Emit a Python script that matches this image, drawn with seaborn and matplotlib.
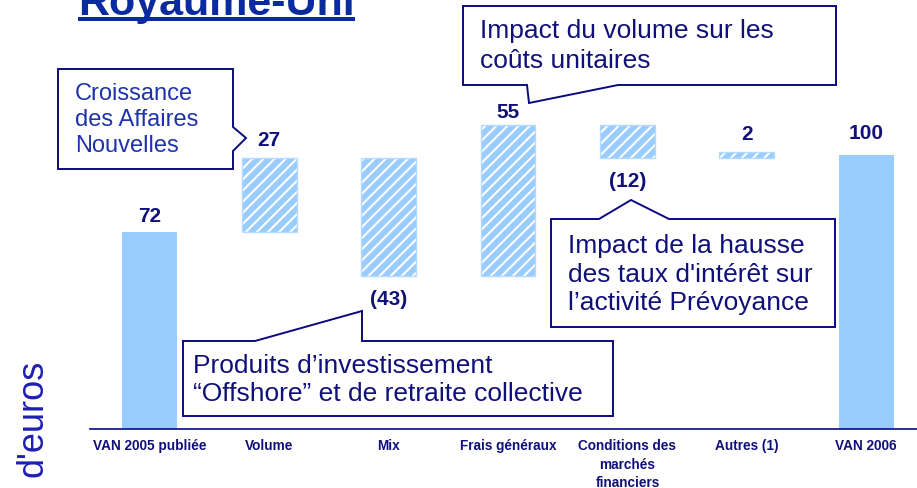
import numpy as np
import pandas as pd
import matplotlib
matplotlib.use("Agg")
import matplotlib.pyplot as plt
import seaborn as sns
from matplotlib.patches import Polygon
from matplotlib.lines import Line2D

# ---- data -------------------------------------------------------------
categories = ["VAN 2005 publiée", "Volume", "Mix", "Frais généraux",
              "Conditions des\nmarchés\nfinanciers", "Autres (1)", "VAN 2006"]
values = [72, 27, -43, 55, -12, 2, 100]
is_total = [True, False, False, False, False, False, True]

# gap (in pixels) between each bar and its value label
label_gaps = [10, 12, 14, 7, 14, 12, 16]

# ---- style ------------------------------------------------------------
sns.set_style("white")
plt.rcParams["font.family"] = ["Liberation Sans", "DejaVu Sans"]
plt.rcParams["hatch.linewidth"] = 1.5

W, H = 917, 488
BAR = "#99CCFF"
BAR_EDGE = "#B5DAFF"
NAVY = "#10107A"
BORDER = "#0A0A80"
TITLE_BLUE = "#0A2A9F"


def px(x, y):
    """Pixel position (origin top-left) -> figure fraction."""
    return (x / W, 1 - y / H)


def label_for(v):
    return f"({abs(v)})" if v < 0 else f"{v}"


# waterfall bases
bottoms = []
running = 0
for v, tot in zip(values, is_total):
    if tot:
        bottoms.append(0)
        running = v
    else:
        bottoms.append(running)
        running += v

fig = plt.figure(figsize=(W / 100, H / 100), dpi=100)
ax = fig.add_axes([90 / W, 59 / H, 836 / W, 429 / H])

df = pd.DataFrame({"poste": categories, "valeur": values})
sns.barplot(data=df, x="poste", y="valeur", order=categories, ax=ax,
            color=BAR, saturation=1, width=0.46, errorbar=None,
            bottom=bottoms, linewidth=0)

# hatched fill for the intermediate steps, with a faint outline on top
for patch, tot in zip(list(ax.patches), is_total):
    patch.set_facecolor(BAR)
    if not tot:
        patch.set_hatch("///")
        patch.set_edgecolor("white")
        patch.set_linewidth(0)
        x0, y0 = patch.get_xy()
        outline = plt.Rectangle((x0, y0), patch.get_width(), patch.get_height(),
                                fill=False, edgecolor=BAR_EDGE, linewidth=1.0,
                                zorder=patch.get_zorder() + 0.1)
        ax.add_patch(outline)

ax.set_xlim(-0.5, len(categories) - 0.5)
ax.set_ylim(0, 429 / 2.74)

# value labels
for i, (v, b, gap) in enumerate(zip(values, bottoms, label_gaps)):
    top = max(b, b + v)
    low = min(b, b + v)
    if v >= 0:
        ax.annotate(label_for(v), xy=(i, top), xytext=(0, gap * 0.72),
                    textcoords="offset points", ha="center", va="baseline",
                    fontsize=15, fontweight="bold", color=NAVY)
    else:
        ax.annotate(label_for(v), xy=(i, low), xytext=(0, -gap * 0.72),
                    textcoords="offset points", ha="center", va="top",
                    fontsize=15, fontweight="bold", color=NAVY)

# axes decoration
for s in ["left", "right", "top"]:
    ax.spines[s].set_visible(False)
ax.spines["bottom"].set_color(BORDER)
ax.spines["bottom"].set_linewidth(1.2)
ax.set_yticks([])
ax.set_xlabel("")
ax.set_ylabel("")
ax.set_xticks(range(len(categories)))
ax.set_xticklabels(categories)
ax.set_xticks(np.arange(-0.5, len(categories)), minor=True)
ax.tick_params(axis="x", which="major", length=0, pad=7.5)
ax.tick_params(axis="x", which="minor", length=4, width=1.2, color=BORDER,
               direction="out")
for t in ax.get_xticklabels():
    t.set_fontsize(9.8)
    t.set_fontweight("bold")
    t.set_color(NAVY)
    t.set_linespacing(1.38)

# title
title = fig.text(*px(216.5, 15), "Royaume-Uni", ha="center", va="baseline",
                 fontsize=31, fontweight="bold", color=TITLE_BLUE)
fig.canvas.draw()
bb = title.get_window_extent()
fig.add_artist(Line2D([bb.x0 / W, bb.x1 / W], [1 - 19 / H, 1 - 19 / H],
                      transform=fig.transFigure, color=TITLE_BLUE,
                      linewidth=2.9, solid_capstyle="butt"))

# y axis label
fig.text(*px(42, 418.5), "d'euros", rotation=90, rotation_mode="anchor",
         ha="center", va="baseline", fontsize=26, color="#1E1EB4")


# callouts
def callout(vertices, lines, x, first_baseline, pitch, size, color):
    poly = Polygon([px(*v) for v in vertices], closed=True,
                   transform=fig.transFigure, facecolor="white",
                   edgecolor=BORDER, linewidth=1.4, zorder=5)
    fig.add_artist(poly)
    for k, line in enumerate(lines):
        fig.text(*px(x, first_baseline + k * pitch), line, fontsize=size,
                 color=color, ha="left", va="baseline", zorder=6)


callout([(58, 69), (233, 69), (233, 127), (246, 138), (233, 151),
         (233, 169), (58, 169)],
        ["Croissance", "des Affaires", "Nouvelles"],
        75, 100.5, 26, 17, "#1E32AA")

callout([(463, 6), (836, 6), (836, 85), (618, 85), (529, 103), (527, 85),
         (463, 85)],
        ["Impact du volume sur les", "coûts unitaires"],
        480, 38, 30, 19, NAVY)

callout([(551, 219), (599, 219), (631, 200), (669, 219), (835, 219),
         (835, 327), (551, 327)],
        ["Impact de la hausse", "des taux d'intérêt sur",
         "l\u2019activité Prévoyance"],
        568, 253, 28.5, 19, NAVY)

callout([(183, 341), (255, 341), (362, 311), (362, 341), (613, 341),
         (613, 416), (183, 416)],
        ["Produits d\u2019investissement",
         "\u201cOffshore\u201d et de retraite collective"],
        193, 373, 28, 19, NAVY)

fig.savefig("out.png", dpi=100)
